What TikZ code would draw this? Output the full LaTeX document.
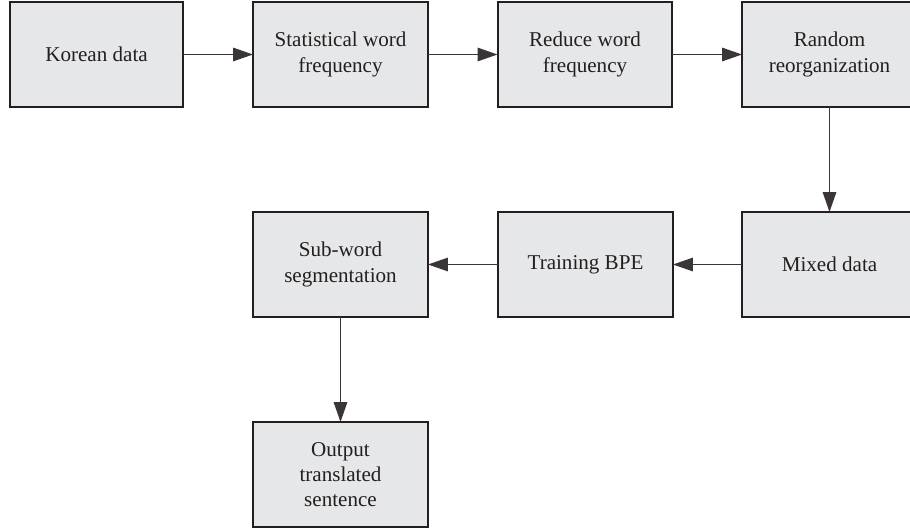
\documentclass[tikz,border=0pt]{standalone}
\usepackage{fontspec}
\setmainfont{Liberation Serif}
\usepackage{xcolor}
\usepackage{tikz}
\usetikzlibrary{arrows.meta, positioning}
\definecolor{fboxgray}{HTML}{E6E7E8}
\definecolor{fdark}{HTML}{231F20}
\definecolor{farrow}{HTML}{3A3637}

\begin{document}
\begin{tikzpicture}[x=0.02cm, y=-0.02cm,
    stepbox/.style={draw=fdark, fill=fboxgray, line width=0.04cm, outer sep=0pt,
      minimum width=3.5cm, minimum height=2.1cm, align=center, text=fdark,
      font=\fontsize{12}{14.3}\selectfont},
    flowarrow/.style={draw=farrow, line width=0.03cm,
      -{Triangle[length=0.4cm, width=0.27cm]}}]

  %% page frame
  \clip (0,0) rectangle (910,531);

  %% top row
  \node[stepbox, minimum width=3.46cm] (korean) at (96.5,54.5) {Korean data};
  \node[stepbox] (stat) at (340.5,54.5) {Statistical word\\frequency};
  \node[stepbox] (reduce) at (585,54.5) {Reduce word\\frequency};
  \node[stepbox] (random) at (829.5,54.5) {Random\\reorganization};

  %% middle row
  \node[stepbox] (mixed) at (829.5,264.5) {Mixed data};
  \node[stepbox] (bpe) at (585.5,264.5) {Training BPE};
  \node[stepbox] (subword) at (340.5,264.5) {Sub-word\\segmentation};

  %% bottom
  \node[stepbox] (output) at (340.5,474.5) {Output\\translated\\sentence};

  %% connectors
  \draw[flowarrow] (korean) -- (stat);
  \draw[flowarrow] (stat) -- (reduce);
  \draw[flowarrow] (reduce) -- (random);
  \draw[flowarrow] (random) -- (mixed);
  \draw[flowarrow] (mixed) -- (bpe);
  \draw[flowarrow] (bpe) -- (subword);
  \draw[flowarrow] (subword) -- (output);

\end{tikzpicture}
\end{document}
